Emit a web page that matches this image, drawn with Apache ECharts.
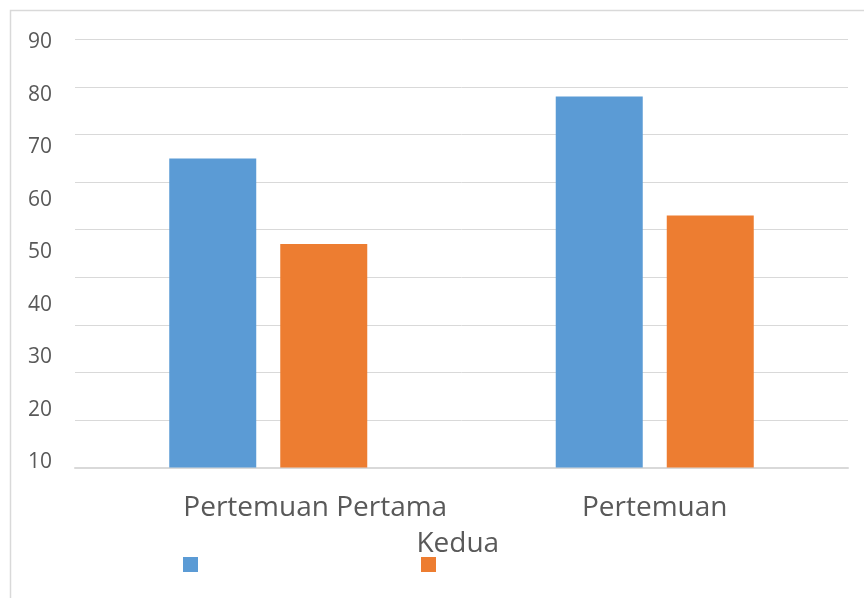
<!DOCTYPE html>
<html>
<head>
<meta charset="utf-8">
<script src="https://cdn.jsdelivr.net/npm/echarts@6/dist/echarts.min.js"></script>
<style>
  html, body { margin: 0; padding: 0; background: #fff; }
  #chart { width: 864px; height: 598px; }
</style>
</head>
<body>
<div id="chart"></div>
<script>
// data
const categories = ['Pertemuan Pertama', 'Pertemuan Kedua'];
const seriesNames = ['Aktivitas Guru', 'Aktivitas Peserta Didik'];
const guruValues = [65, 78];
const pesertaValues = [47, 53];
const tickLabels = [10, 20, 30, 40, 50, 60, 70, 80, 90];

const FONT = 'Open Sans';
const GREY = '#595959';
const LINE = '#d9d9d9';

const chart = echarts.init(document.getElementById('chart'), null, { renderer: 'canvas' });

const labelStyle = { fontFamily: FONT, fontSize: 28, lineHeight: 36, color: GREY };

const option = {
    animation: false,
    backgroundColor: '#fff',
    color: ['#5b9bd5', '#ed7d31'],
    // frame of the chart area
    graphic: [{
        type: 'rect',
        silent: true,
        shape: { x: 10.5, y: 10.5, width: 900, height: 700 },
        style: { fill: 'none', stroke: LINE, lineWidth: 1.5 }
    }],
    grid: [
        // bars + gridlines
        { left: 75, right: 16, top: 39.5, bottom: 130.5, outerBoundsMode: 'none' },
        // the tick labels sit a bit apart from the gridlines in the picture
        { left: 60, width: 10, top: 42.5, bottom: 136, outerBoundsMode: 'none' }
    ],
    legend: {
        data: seriesNames,
        left: 183,
        top: 557,
        padding: 0,
        icon: 'rect',
        itemWidth: 15,
        itemHeight: 15,
        itemGap: 223,
        formatter: () => '',
        textStyle: { fontFamily: FONT, fontSize: 14, color: GREY }
    },
    xAxis: [{
        type: 'category',
        gridIndex: 0,
        data: categories,
        axisTick: { show: false },
        axisLine: { lineStyle: { color: LINE, width: 2 } },
        axisLabel: {
            interval: 0,
            margin: 23,
            fontFamily: FONT,
            fontSize: 28,
            lineHeight: 36,
            color: GREY,
            // the picture wraps the labels oddly: first one sits right of centre,
            // the second word of the second one drops under the gap
            formatter: (v, i) => {
                if (i === 0) return '{a|' + v + '}';
                const parts = v.split(' ');
                return parts[0] + '\n{k|' + parts[1] + '}';
            },
            rich: {
                a: Object.assign({ padding: [0, 0, 0, 94] }, labelStyle),
                k: Object.assign({ padding: [0, 394, 0, 0] }, labelStyle)
            }
        }
    }, {
        type: 'category',
        gridIndex: 1,
        show: false,
        data: categories
    }],
    yAxis: [{
        type: 'value',
        gridIndex: 0,
        min: 0,
        max: 90,
        interval: 10,
        axisLabel: { show: false },
        axisLine: { show: false },
        axisTick: { show: false },
        splitLine: { lineStyle: { color: LINE, width: 1 } }
    }, {
        type: 'value',
        gridIndex: 1,
        min: tickLabels[0],
        max: tickLabels[tickLabels.length - 1],
        interval: 10,
        axisLine: { show: false },
        axisTick: { show: false },
        splitLine: { show: false },
        axisLabel: {
            margin: 8,
            fontFamily: FONT,
            fontSize: 21,
            color: GREY
        }
    }],
    series: [{
        name: seriesNames[0],
        type: 'bar',
        xAxisIndex: 0,
        yAxisIndex: 0,
        data: guruValues,
        barWidth: 87,
        barGap: '27.6%'
    }, {
        name: seriesNames[1],
        type: 'bar',
        xAxisIndex: 0,
        yAxisIndex: 0,
        data: pesertaValues,
        barWidth: 87,
        barGap: '27.6%'
    }]
};

chart.setOption(option);
</script>
</body>
</html>
